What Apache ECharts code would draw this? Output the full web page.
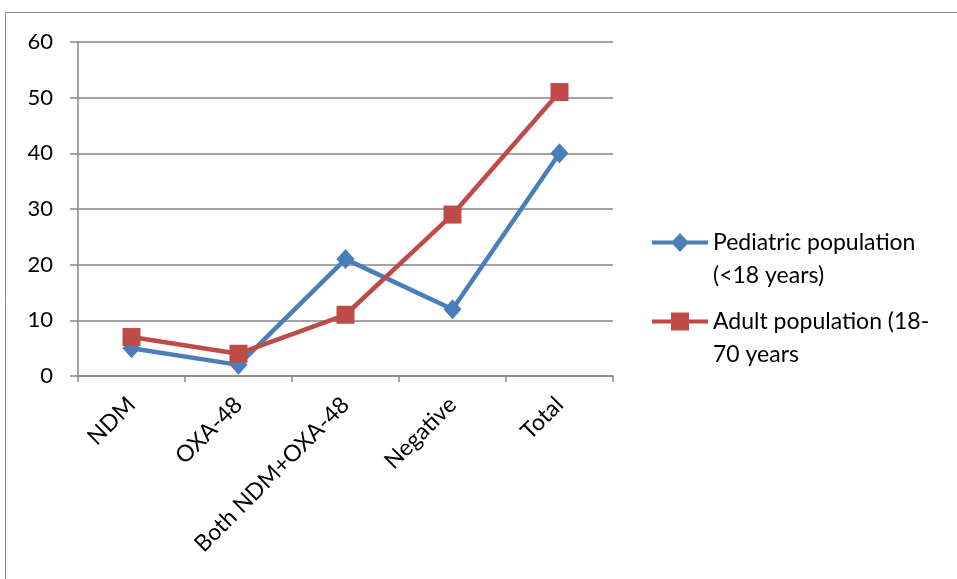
<!DOCTYPE html>
<html>
<head>
<meta charset="utf-8">
<script src="https://cdn.jsdelivr.net/npm/echarts@6/dist/echarts.min.js"></script>
<style>
  html, body { margin: 0; padding: 0; background: #fff; }
  #chart { width: 957px; height: 579px; }
</style>
</head>
<body>
<div id="chart"></div>
<script>
const categories = ['NDM', 'OXA-48', 'Both NDM+OXA-48', 'Negative', 'Total']
const pediatric = [5, 2, 21, 12, 40]
const adult = [7, 4, 11, 29, 51]
const legendLines = {
  'Pediatric population (<18 years)': 'Pediatric population\n(<18 years)',
  'Adult population (18-70 years': 'Adult population (18-\n70 years'
}

const fontFamily = 'Lato'
const gridColor = '#868686'
const blue = '#4A7EBB'
const red = '#BE4B48'

// legend icons: line + marker placed on the first text line (tiny specks keep the box 56x66)
const specks = 'M0,0 L0.01,0 L0,0.01 Z M0,66 L0.01,66 L0,65.99 Z '
const diamondIcon = 'path://' + specks +
  'M0,14.5 L21,14.5 L28,7 L35,14.5 L56,14.5 L56,18.5 L35,18.5 L28,26 L21,18.5 L0,18.5 Z'
const squareIcon = 'path://' + specks +
  'M0,14.5 L19,14.5 L19,7.5 L37,7.5 L37,14.5 L56,14.5 L56,18.5 L37,18.5 L37,25.5 L19,25.5 L19,18.5 L0,18.5 Z'

const chart = echarts.init(document.getElementById('chart'))

const option = {
  animation: false,
  textStyle: { fontFamily },
  graphic: [{
    type: 'rect',
    shape: { x: 5.5, y: 12.5, width: 980, height: 600 },
    style: { fill: 'none', stroke: '#8c8c8c', lineWidth: 1 }
  }],
  grid: { left: 78, right: 344, top: 42, bottom: 203 },
  legend: {
    orient: 'vertical',
    left: 647,
    top: 221,
    itemWidth: 56,
    itemHeight: 66,
    itemGap: 13,
    itemStyle: { borderWidth: 0 },
    data: [
      { name: 'Pediatric population (<18 years)', icon: diamondIcon },
      { name: 'Adult population (18-70 years', icon: squareIcon }
    ],
    formatter: (name) => legendLines[name] || name,
    textStyle: {
      fontFamily,
      fontSize: 23,
      color: '#000',
      lineHeight: 33
    }
  },
  xAxis: {
    type: 'category',
    data: categories,
    boundaryGap: true,
    axisLine: { lineStyle: { color: gridColor, width: 1.5 } },
    axisTick: { show: true, length: 6, lineStyle: { color: gridColor, width: 1.5 } },
    axisLabel: {
      rotate: 45,
      fontSize: 23,
      color: '#000',
      fontFamily,
      margin: 25,
      interval: 0
    }
  },
  yAxis: {
    type: 'value',
    min: 0,
    max: 60,
    interval: 10,
    axisLine: { show: true, lineStyle: { color: gridColor, width: 1.5 } },
    axisTick: { show: true, length: 8, lineStyle: { color: gridColor, width: 1.5 } },
    splitLine: { lineStyle: { color: gridColor, width: 1.5 } },
    axisLabel: { fontSize: 22, color: '#000', fontFamily, margin: 25 }
  },
  series: [
    {
      name: 'Pediatric population (<18 years)',
      type: 'line',
      data: pediatric,
      symbol: 'diamond',
      symbolSize: [18, 20],
      lineStyle: { color: blue, width: 4.5 },
      itemStyle: { color: blue }
    },
    {
      name: 'Adult population (18-70 years',
      type: 'line',
      data: adult,
      symbol: 'rect',
      symbolSize: 18,
      lineStyle: { color: red, width: 4.5 },
      itemStyle: { color: red }
    }
  ]
}

chart.setOption(option)
</script>
</body>
</html>
